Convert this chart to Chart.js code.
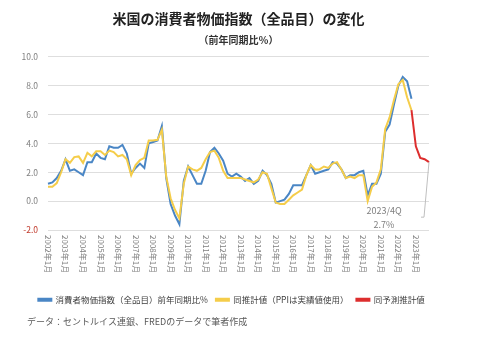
<!DOCTYPE html>
<html lang="ja">
<head>
<meta charset="utf-8">
<title>米国の消費者物価指数（全品目）の変化</title>
<script src="https://cdn.jsdelivr.net/npm/chart.js@4/dist/chart.umd.min.js"></script>
<style>
  body { margin: 0; background: #fff; }
</style>
</head>
<body>
<canvas id="cpiChart" width="480" height="343"></canvas>
<script>
// quarterly categories 2002Q1 - 2023Q4
const years = [2002, 2003, 2004, 2005, 2006, 2007, 2008, 2009, 2010, 2011, 2012,
               2013, 2014, 2015, 2016, 2017, 2018, 2019, 2020, 2021, 2022, 2023];
const quarterMonths = ['1月', '4月', '7月', '10月'];
const categories = years.flatMap(y => quarterMonths.map(m => y + '年' + m));

// CPI all items, YoY % (2002Q1 - 2022Q4)
const cpiActual = [
  1.2, 1.3, 1.6, 2.1,   2.9, 2.1, 2.2, 2.0,   1.8, 2.7, 2.7, 3.3,
  3.0, 2.9, 3.8, 3.7,   3.7, 3.9, 3.3, 1.9,   2.3, 2.6, 2.3, 4.0,
  4.1, 4.2, 5.2, 1.6,  -0.2, -1.0, -1.6, 1.4,  2.4, 1.8, 1.2, 1.2,
  2.1, 3.4, 3.7, 3.3,   2.8, 1.9, 1.7, 1.9,   1.7, 1.4, 1.6, 1.2,
  1.4, 2.1, 1.8, 1.2,  -0.1, 0.0, 0.1, 0.5,   1.1, 1.1, 1.1, 1.8,
  2.5, 1.9, 2.0, 2.1,   2.2, 2.7, 2.6, 2.2,   1.6, 1.8, 1.8, 2.0,
  2.1, 0.4, 1.2, 1.2,   1.9, 4.8, 5.3, 6.7,   8.0, 8.6, 8.3, 7.1
];

// estimate using actual PPI (2002Q1 - 2022Q4)
const cpiEstimate = [
  1.0, 1.0, 1.25, 2.0,  2.9, 2.65, 3.05, 3.1,  2.65, 3.35, 3.1, 3.45,
  3.45, 3.2, 3.5, 3.4,  3.1, 3.2, 2.9, 1.8,    2.5, 2.85, 3.0, 4.2,
  4.2, 4.25, 4.95, 1.7, 0.2, -0.6, -1.2, 1.2,  2.4, 2.2, 2.1, 2.3,
  2.9, 3.4, 3.5, 3.0,   2.1, 1.6, 1.6, 1.6,    1.6, 1.5, 1.4, 1.3,
  1.5, 2.0, 1.9, 0.9,  -0.1, -0.2, -0.2, 0.1,  0.4, 0.6, 0.8, 1.8,
  2.5, 2.2, 2.2, 2.4,   2.3, 2.6, 2.7, 2.2,    1.6, 1.7, 1.6, 1.8,
  1.8, 0.0, 1.0, 1.3,   2.2, 5.0, 5.8, 7.0,    8.1, 8.4, 7.2, 6.3
];

// forecast estimate (2022Q4 - 2023Q4)
const cpiForecast = [6.3, 3.8, 3.0, 2.9, 2.7];
const forecastStart = 83;

const yTicks = [-2, 0, 2, 4, 6, 8, 10];
const lastLabel = '2023/4Q';
const sourceNote = 'データ：セントルイス連銀、FREDのデータで筆者作成';

const padTo = (arr, before) => {
  const out = Array(before).fill(null).concat(arr);
  while (out.length < categories.length) out.push(null);
  return out;
};

Chart.defaults.font.family = '"Noto Sans CJK JP", "Noto Sans", sans-serif';

// x labels read top-to-bottom, plus the end-point callout and source note
const extrasPlugin = {
  id: 'extras',
  afterDraw(chart) {
    const ctx = chart.ctx;
    const xs = chart.scales.x;
    const area = chart.chartArea;

    ctx.save();
    ctx.fillStyle = '#7f7f7f';
    ctx.font = '8px "Noto Sans CJK JP"';
    ctx.textAlign = 'left';
    ctx.textBaseline = 'middle';
    categories.forEach((lab, i) => {
      if (i % 4 !== 0) return;
      const x = xs.getPixelForValue(i);
      ctx.save();
      ctx.translate(x, area.bottom + 5);
      ctx.rotate(Math.PI / 2);
      ctx.fillText(lab, 0, 0);
      ctx.restore();
    });
    ctx.restore();

    // callout for last forecast point
    const meta = chart.getDatasetMeta(2);
    const pt = meta.data[categories.length - 1];
    if (pt) {
      ctx.save();
      ctx.strokeStyle = '#bfbfbf';
      ctx.lineWidth = 1;
      ctx.beginPath();
      ctx.moveTo(pt.x, pt.y);
      ctx.lineTo(pt.x - 5, pt.y + 55);
      ctx.lineTo(pt.x - 8, pt.y + 55);
      ctx.stroke();
      ctx.fillStyle = '#7f7f7f';
      ctx.font = '9px "Noto Sans CJK JP"';
      ctx.textAlign = 'center';
      ctx.textBaseline = 'middle';
      ctx.fillText(lastLabel, pt.x - 45, pt.y + 48);
      ctx.fillText(cpiForecast[cpiForecast.length - 1].toFixed(1) + '%', pt.x - 45, pt.y + 62);
      ctx.restore();
    }

    ctx.save();
    ctx.fillStyle = '#595959';
    ctx.font = '9px "Noto Sans CJK JP"';
    ctx.textAlign = 'left';
    ctx.textBaseline = 'middle';
    ctx.fillText(sourceNote, 27, 322);
    ctx.restore();
  }
};

new Chart(document.getElementById('cpiChart'), {
  type: 'line',
  data: {
    labels: categories,
    datasets: [{
      label: '消費者物価指数（全品目）前年同期比%',
      data: padTo(cpiActual, 0),
      borderColor: '#4a86c5',
      backgroundColor: '#4a86c5',
      borderWidth: 2,
      order: 3
    }, {
      label: '同推計値（PPIは実績値使用）',
      data: padTo(cpiEstimate, 0),
      borderColor: '#f5cd4a',
      backgroundColor: '#f5cd4a',
      borderWidth: 2,
      order: 2
    }, {
      label: '同予測推計値',
      data: padTo(cpiForecast, forecastStart),
      borderColor: '#dd2e2e',
      backgroundColor: '#dd2e2e',
      borderWidth: 2,
      order: 1
    }]
  },
  options: {
    responsive: false,
    animation: false,
    layout: { padding: { left: 0, right: 17, top: 0, bottom: 29 } },
    elements: {
      point: { radius: 0, hoverRadius: 0 },
      line: { tension: 0 }
    },
    plugins: {
      title: {
        display: true,
        text: '米国の消費者物価指数（全品目）の変化',
        fullSize: false,
        color: '#222',
        font: { size: 14, weight: 'bold' },
        padding: { top: 10, bottom: 0 }
      },
      subtitle: {
        display: true,
        text: '（前年同期比％）',
        fullSize: false,
        color: '#333',
        font: { size: 10, weight: 'bold' },
        padding: { top: 7, bottom: 11 }
      },
      legend: {
        position: 'bottom',
        labels: {
          boxWidth: 13,
          boxHeight: 2,
          padding: 8,
          color: '#404040',
          font: { size: 8.5 },
          sort: (a, b) => a.datasetIndex - b.datasetIndex
        }
      },
      tooltip: { enabled: false }
    },
    scales: {
      x: {
        ticks: { display: false },
        grid: { display: false },
        border: { display: false },
        afterFit(scale) { scale.height = 57.5; }
      },
      y: {
        min: yTicks[0],
        max: yTicks[yTicks.length - 1],
        afterBuildTicks(scale) { scale.ticks = yTicks.map(v => ({ value: v })); },
        afterFit(scale) { scale.width = 48; },
        ticks: {
          padding: 10,
          font: { size: 8.5 },
          color: c => c.tick.value < 0 ? '#c0392b' : '#7f7f7f',
          callback: v => v.toFixed(1)
        },
        grid: { color: '#dedede', drawTicks: false },
        border: { display: false }
      },
      // empty right-hand gutter beside the plot
      gutter: {
        type: 'linear',
        position: 'right',
        ticks: { display: false },
        grid: { display: false },
        border: { display: false },
        afterFit(scale) { scale.width = 34; }
      }
    }
  },
  plugins: [extrasPlugin]
});
</script>
</body>
</html>
